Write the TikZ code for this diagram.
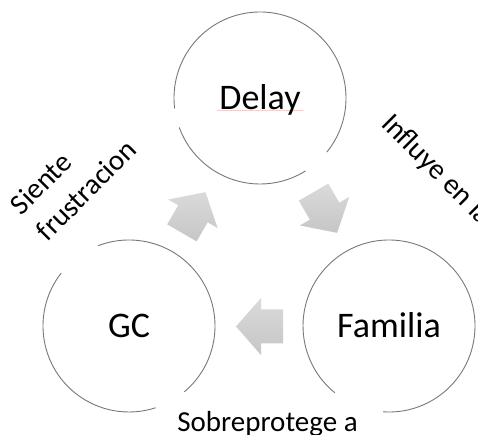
\documentclass[tikz,border=0pt]{standalone}
\usepackage{fontspec}
\setmainfont{Carlito}
\usetikzlibrary{calc}
\definecolor{ringcol}{RGB}{120,120,120}
\definecolor{arrtop}{RGB}{218,218,218}
\definecolor{arrbot}{RGB}{198,198,198}
\definecolor{squig}{RGB}{248,205,205}
\begin{document}
\begin{tikzpicture}[x=1pt,y=1pt,
  ring/.style={draw=ringcol, line width=0.9pt},
  maintext/.style={font=\fontsize{36}{43}\selectfont, anchor=base, inner sep=0pt},
  edgetext/.style={font=\fontsize{29}{37}\selectfont, inner sep=0pt},
  blockarrow/.style={top color=arrtop, bottom color=arrbot, draw=none}]
\useasboundingbox (0,0) rectangle (478,435);
\fill[white] (0,0) rectangle (478,435);
\coordinate (C) at (259.5,184.5);
\coordinate (dc) at (260,337);
\coordinate (gc) at (129,109);
\coordinate (fc) at (389,109);
% circles (with small gaps as in the reference)
\draw[ring] ($(dc)+(200:86pt)$) arc[start angle=200,end angle=302,radius=86pt];
\draw[ring] ($(dc)+(321:86pt)$) arc[start angle=321,end angle=547,radius=86pt];
\draw[ring] ($(gc)+(142:86pt)$) arc[start angle=142,end angle=288,radius=86pt];
\draw[ring] ($(gc)+(310:86pt)$) arc[start angle=310,end angle=471,radius=86pt];
\draw[ring] ($(fc)+(266:86pt)$) arc[start angle=266,end angle=591,radius=86pt];
% block arrows
\foreach \a in {150,30,270}{
  \path[blockarrow, shift={($(C)+(\a:76pt)$)}, rotate=\a-90]
    (-23.5,-17) -- (-1.5,-17) -- (-1.5,-28.5) -- (23.5,0) -- (-1.5,28.5) -- (-1.5,17) -- (-23.5,17) -- cycle;
}
% spell-check underline
\draw[squig, line width=0.5pt] (217,324.3) -- (303,324.3);
% texts
\node[maintext] (delay) at ($(dc)+(0,-11.6)$) {Delay};
\node[maintext] (gcn) at ($(gc)+(0,-11.6)$) {GC};
\node[maintext] (fam) at ($(fc)+(0,-11.6)$) {Familia};
\node[edgetext, anchor=base] (sob) at (267.5,3) {Sobreprotege a};
\node[edgetext, anchor=base west, rotate=-45] (inf) at (380,310) {Influye en la};
\node[edgetext, align=left, rotate=45] (sie) at (73,258) {Siente\\frustracion};
\end{tikzpicture}
\end{document}
